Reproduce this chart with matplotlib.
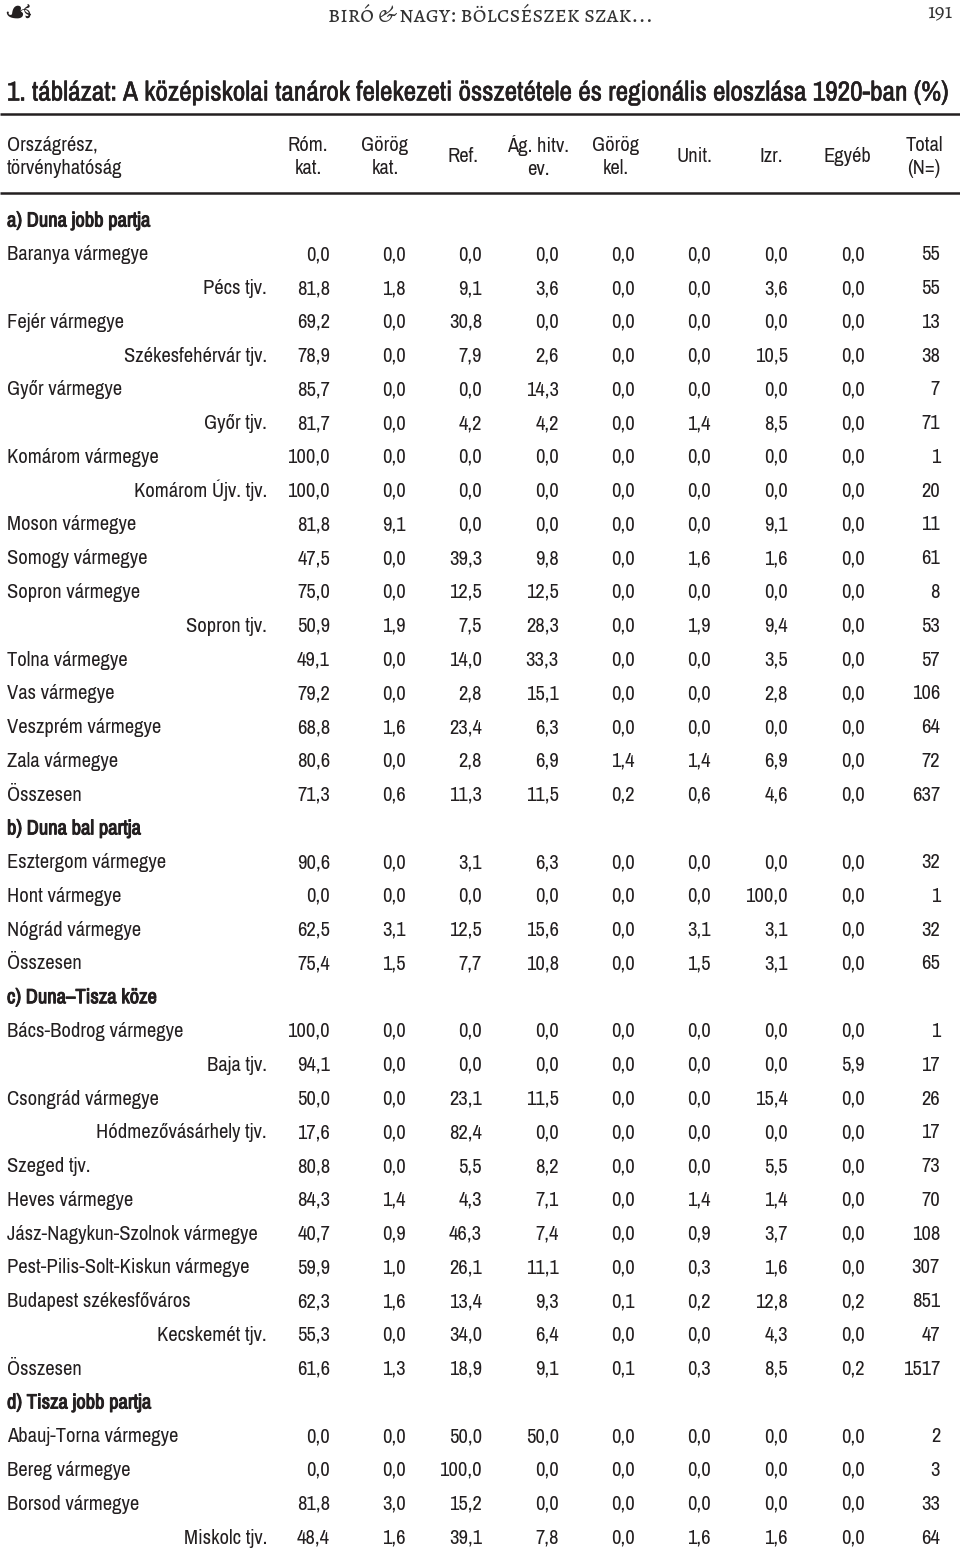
import matplotlib.pyplot as plt
import matplotlib.patheffects as pe

# Adatok (1920, %)
cols = ['Róm.\nkat.', 'Görög\nkat.', 'Ref.', 'Ág. hitv.\nev.', 'Görög\nkel.',
        'Unit.', 'Izr.', 'Egyéb', 'Total\n(N=)']

labels = [
    'a) Duna jobb partja',
    'Baranya vármegye', 'Pécs tjv.', 'Fejér vármegye', 'Székesfehérvár tjv.',
    'Győr vármegye', 'Győr tjv.', 'Komárom vármegye', 'Komárom Újv. tjv.',
    'Moson vármegye', 'Somogy vármegye', 'Sopron vármegye', 'Sopron tjv.',
    'Tolna vármegye', 'Vas vármegye', 'Veszprém vármegye', 'Zala vármegye',
    'Összesen',
    'b) Duna bal partja',
    'Esztergom vármegye', 'Hont vármegye', 'Nógrád vármegye', 'Összesen',
    'c) Duna–Tisza köze',
    'Bács-Bodrog vármegye', 'Baja tjv.', 'Csongrád vármegye',
    'Hódmezővásárhely tjv.', 'Szeged tjv.', 'Heves vármegye',
    'Jász-Nagykun-Szolnok vármegye', 'Pest-Pilis-Solt-Kiskun vármegye',
    'Budapest székesfőváros', 'Kecskemét tjv.', 'Összesen',
    'd) Tisza jobb partja',
    'Abauj-Torna vármegye', 'Bereg vármegye', 'Borsod vármegye', 'Miskolc tjv.',
]

# 'sec' = szakaszcím, 'row' = balra zárt sor, 'sub' = jobbra zárt (tjv.)
kinds = [
    'sec',
    'row', 'sub', 'row', 'sub', 'row', 'sub', 'row', 'sub',
    'row', 'row', 'row', 'sub', 'row', 'row', 'row', 'row', 'row',
    'sec',
    'row', 'row', 'row', 'row',
    'sec',
    'row', 'sub', 'row', 'sub', 'row', 'row', 'row', 'row', 'row', 'sub', 'row',
    'sec',
    'row', 'row', 'row', 'sub',
]

N = None
rom_kat = [N, 0.0, 81.8, 69.2, 78.9, 85.7, 81.7, 100.0, 100.0, 81.8, 47.5, 75.0, 50.9,
           49.1, 79.2, 68.8, 80.6, 71.3,
           N, 90.6, 0.0, 62.5, 75.4,
           N, 100.0, 94.1, 50.0, 17.6, 80.8, 84.3, 40.7, 59.9, 62.3, 55.3, 61.6,
           N, 0.0, 0.0, 81.8, 48.4]
gorog_kat = [N, 0.0, 1.8, 0.0, 0.0, 0.0, 0.0, 0.0, 0.0, 9.1, 0.0, 0.0, 1.9,
             0.0, 0.0, 1.6, 0.0, 0.6,
             N, 0.0, 0.0, 3.1, 1.5,
             N, 0.0, 0.0, 0.0, 0.0, 0.0, 1.4, 0.9, 1.0, 1.6, 0.0, 1.3,
             N, 0.0, 0.0, 3.0, 1.6]
ref = [N, 0.0, 9.1, 30.8, 7.9, 0.0, 4.2, 0.0, 0.0, 0.0, 39.3, 12.5, 7.5,
       14.0, 2.8, 23.4, 2.8, 11.3,
       N, 3.1, 0.0, 12.5, 7.7,
       N, 0.0, 0.0, 23.1, 82.4, 5.5, 4.3, 46.3, 26.1, 13.4, 34.0, 18.9,
       N, 50.0, 100.0, 15.2, 39.1]
ag_hitv = [N, 0.0, 3.6, 0.0, 2.6, 14.3, 4.2, 0.0, 0.0, 0.0, 9.8, 12.5, 28.3,
           33.3, 15.1, 6.3, 6.9, 11.5,
           N, 6.3, 0.0, 15.6, 10.8,
           N, 0.0, 0.0, 11.5, 0.0, 8.2, 7.1, 7.4, 11.1, 9.3, 6.4, 9.1,
           N, 50.0, 0.0, 0.0, 7.8]
gorog_kel = [N, 0.0, 0.0, 0.0, 0.0, 0.0, 0.0, 0.0, 0.0, 0.0, 0.0, 0.0, 0.0,
             0.0, 0.0, 0.0, 1.4, 0.2,
             N, 0.0, 0.0, 0.0, 0.0,
             N, 0.0, 0.0, 0.0, 0.0, 0.0, 0.0, 0.0, 0.0, 0.1, 0.0, 0.1,
             N, 0.0, 0.0, 0.0, 0.0]
unit = [N, 0.0, 0.0, 0.0, 0.0, 0.0, 1.4, 0.0, 0.0, 0.0, 1.6, 0.0, 1.9,
        0.0, 0.0, 0.0, 1.4, 0.6,
        N, 0.0, 0.0, 3.1, 1.5,
        N, 0.0, 0.0, 0.0, 0.0, 0.0, 1.4, 0.9, 0.3, 0.2, 0.0, 0.3,
        N, 0.0, 0.0, 0.0, 1.6]
izr = [N, 0.0, 3.6, 0.0, 10.5, 0.0, 8.5, 0.0, 0.0, 9.1, 1.6, 0.0, 9.4,
       3.5, 2.8, 0.0, 6.9, 4.6,
       N, 0.0, 100.0, 3.1, 3.1,
       N, 0.0, 0.0, 15.4, 0.0, 5.5, 1.4, 3.7, 1.6, 12.8, 4.3, 8.5,
       N, 0.0, 0.0, 0.0, 1.6]
egyeb = [N, 0.0, 0.0, 0.0, 0.0, 0.0, 0.0, 0.0, 0.0, 0.0, 0.0, 0.0, 0.0,
         0.0, 0.0, 0.0, 0.0, 0.0,
         N, 0.0, 0.0, 0.0, 0.0,
         N, 0.0, 5.9, 0.0, 0.0, 0.0, 0.0, 0.0, 0.0, 0.2, 0.0, 0.2,
         N, 0.0, 0.0, 0.0, 0.0]
total = [N, 55, 55, 13, 38, 7, 71, 1, 20, 11, 61, 8, 53,
         57, 106, 64, 72, 637,
         N, 32, 1, 32, 65,
         N, 1, 17, 26, 17, 73, 70, 108, 307, 851, 47, 1517,
         N, 2, 3, 33, 64]

series = [rom_kat, gorog_kat, ref, ag_hitv, gorog_kel, unit, izr, egyeb, total]

# Elrendezés (pixelben)
col_right = [330, 406, 482, 559, 635, 711, 788, 865, 940]
col_head = [308, 385, 463, 538, 616, 694, 771, 847, 924]
y0, dy = 219, 33.77
base = 7.5   # alapvonal eltolása a sor közepétől
ink = '#231f20'
font = ['Archivo Narrow', 'DejaVu Sans']
fs = 14.8
bold = [pe.withStroke(linewidth=0.7, foreground=ink)]
semi = [pe.withStroke(linewidth=0.4, foreground=ink)]

fig = plt.figure(figsize=(9.6, 15.5), dpi=100)
ax = fig.add_axes([0, 0, 1, 1])
ax.set_xlim(0, 960)
ax.set_ylim(1550, 0)
ax.axis('off')

# élőfej
ax.text(18, 14, '☙', fontsize=24, color=ink, ha='center', va='center',
        family=['DejaVu Sans'])
ax.text(490, 13, 'biró & nagy: bölcsészek szak...', fontsize=17, color='#333333',
        ha='center', va='center', family=['Alegreya SC', 'DejaVu Serif'])
ax.text(952, 13, '191', fontsize=16, color='#333333', ha='right', va='center',
        family=['Alegreya SC', 'DejaVu Serif'])

# cím
ax.text(7, 93, '1. táblázat: A középiskolai tanárok felekezeti összetétele és '
        'regionális eloszlása 1920-ban (%)', fontsize=19.7, color=ink,
        ha='left', va='center', family=font, path_effects=semi)

ax.plot([0, 960], [114, 114], color=ink, lw=1.8, solid_capstyle='butt')
ax.plot([0, 960], [193, 193], color=ink, lw=1.8, solid_capstyle='butt')

# fejléc
ax.text(7, 157, 'Országrész,\ntörvényhatóság', fontsize=fs, color=ink,
        ha='left', va='center', family=font, linespacing=1.25)
for x, c in zip(col_head, cols):
    ax.text(x, 157, c, fontsize=fs, color=ink, ha='center', va='center',
            family=font, linespacing=1.25)

# sorok
for i, (lab, kind) in enumerate(zip(labels, kinds)):
    y = y0 + i * dy + base
    if kind == 'sec':
        ax.text(7, y, lab, fontsize=fs, color=ink, ha='left', va='baseline',
                family=font, path_effects=bold)
        continue
    if kind == 'sub':
        ax.text(267, y, lab, fontsize=fs, color=ink, ha='right', va='baseline',
                family=font)
    else:
        ax.text(7, y, lab, fontsize=fs, color=ink, ha='left', va='baseline',
                family=font)
    for j, s in enumerate(series):
        v = s[i]
        txt = str(v) if j == 8 else f'{v:.1f}'.replace('.', ',')
        ax.text(col_right[j], y, txt, fontsize=fs, color=ink, ha='right',
                va='baseline', family=font)

fig.savefig('out.png', dpi=100)
